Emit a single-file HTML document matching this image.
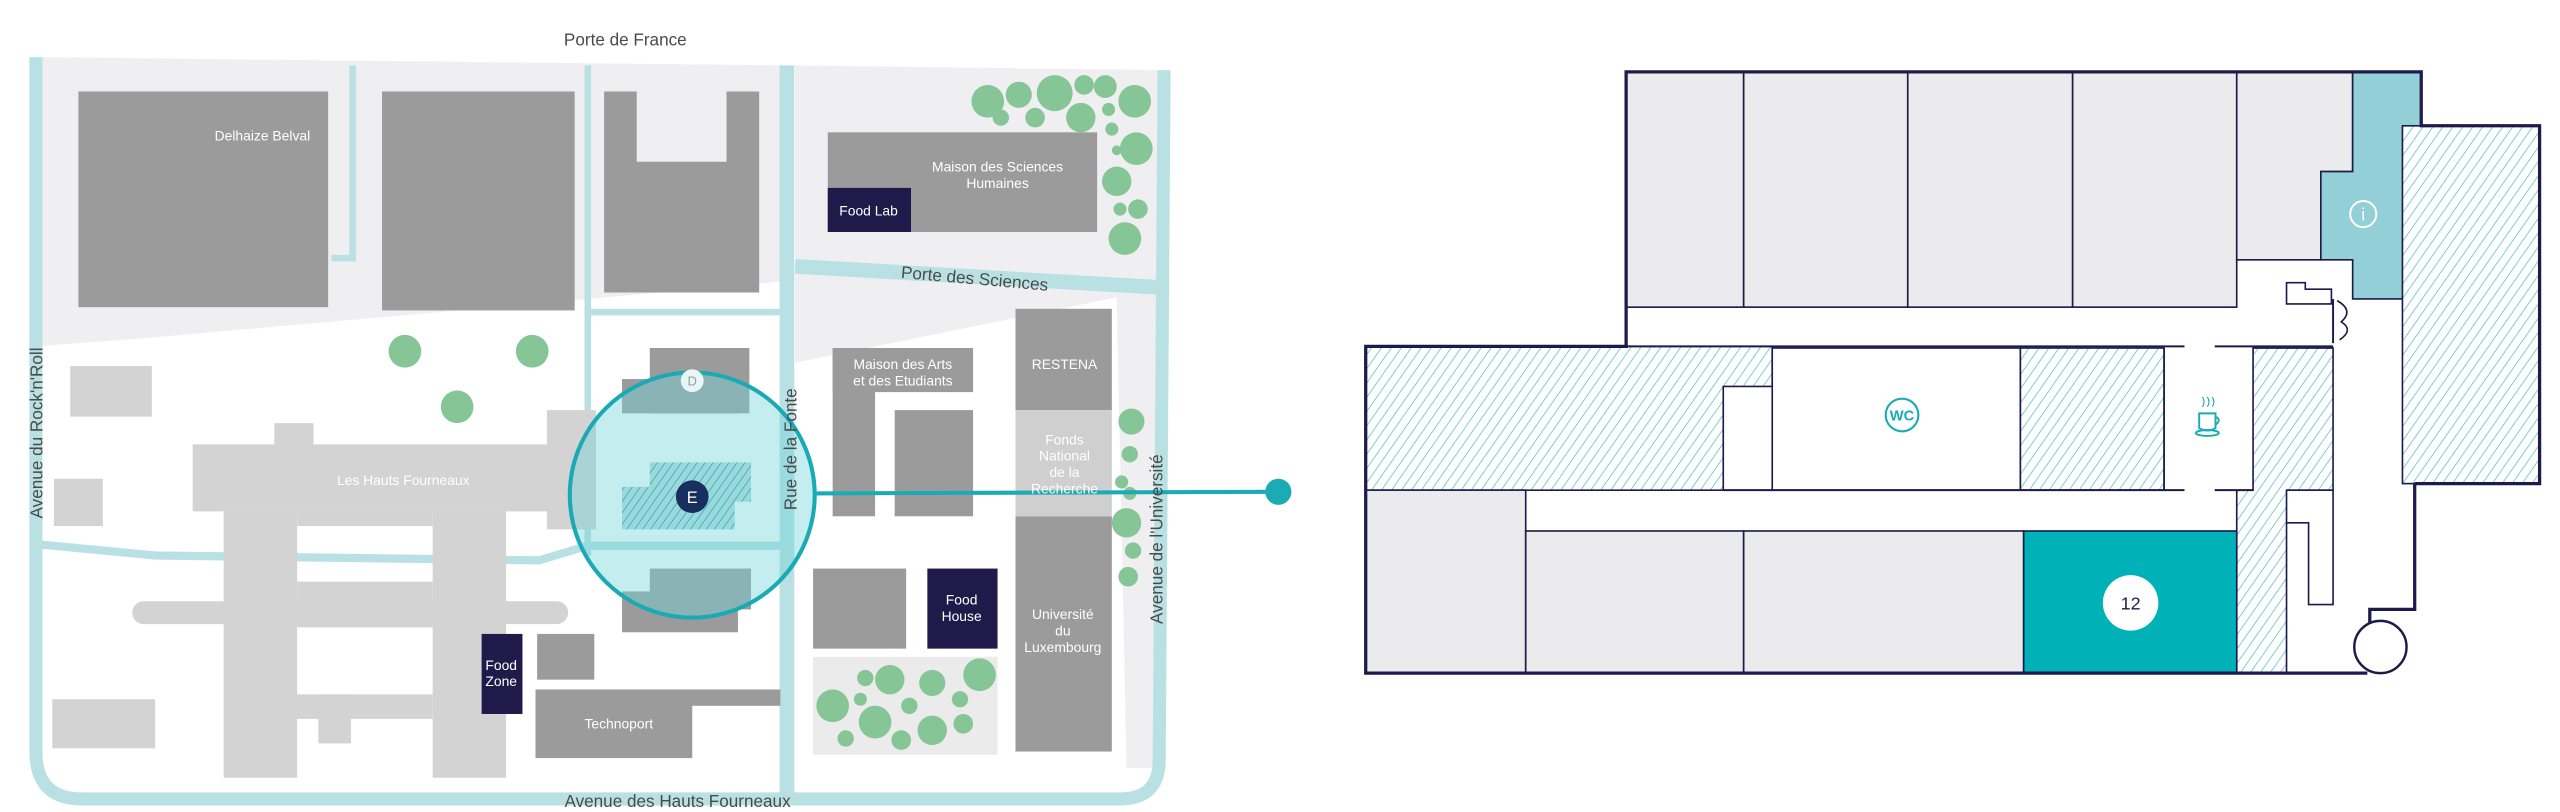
<!DOCTYPE html>
<html><head><meta charset="utf-8"><style>
html,body{margin:0;padding:0;background:#fff;width:2560px;height:812px;overflow:hidden}
svg{display:block}
text{font-family:"Liberation Sans Narrow","Liberation Sans",sans-serif}
</style></head><body>
<svg width="2560" height="812" viewBox="0 0 1568 497" preserveAspectRatio="none" xmlns="http://www.w3.org/2000/svg">
<defs>
<pattern id="h" patternUnits="userSpaceOnUse" width="5" height="5" patternTransform="rotate(35)">
<rect width="5" height="5" fill="#fff"/><line x1="0" y1="0" x2="0" y2="5" stroke="#3cb7bf" stroke-width="0.8"/></pattern>
<pattern id="h2" patternUnits="userSpaceOnUse" width="4" height="4" patternTransform="rotate(35)">
<rect width="4" height="4" fill="#9ad8dc"/><line x1="0" y1="0" x2="0" y2="4" stroke="#1aa5ad" stroke-width="0.8"/></pattern>
</defs>
<path d="M22 35 L482 40 L482 172 L360 183 L88 207 L22 212 Z" fill="#efeff1"/>
<path d="M487 40 L716 43 L710 470 L690 470 L684 182 L487 222 Z" fill="#efeff1"/>
<g fill="none" stroke="#b9e1e4">
<path d="M22 35 L22 460 Q22 489 50 489 L686 489 Q710 489 710 465 L713 43" stroke-width="8"/>
<path d="M216 40 L216 158 L203 158" stroke-width="4"/>
<path d="M360 40 L360 340" stroke-width="4"/>
<path d="M362 191 L478 191" stroke-width="4"/>
<path d="M482 40 L482 490" stroke-width="9"/>
<path d="M487 163 L712 176" stroke-width="9"/>
<path d="M22 333 L95 340 L330 343 L360 334 L478 334" stroke-width="5"/>
</g>
<g fill="#9b9b9b">
<rect x="48" y="56" width="153" height="132"/>
<rect x="234" y="56" width="118" height="134"/>
<path d="M370 56 H390 V99 H445 V56 H465 V179 H370 Z"/>
<rect x="507" y="81" width="165" height="61"/>
<rect x="398" y="213" width="61" height="40"/>
<rect x="381" y="232" width="72" height="21"/>
<rect x="398" y="348" width="62" height="25"/>
<rect x="381" y="362" width="71" height="25"/>
<rect x="329" y="388" width="35" height="28"/>
<rect x="328" y="422" width="150" height="10"/>
<rect x="328" y="422" width="96" height="42"/>
<rect x="510" y="213" width="86" height="27"/>
<rect x="510" y="213" width="26" height="103"/>
<rect x="548" y="251" width="48" height="65"/>
<rect x="622" y="189" width="59" height="62"/>
<rect x="622" y="316" width="59" height="144"/>
<rect x="498" y="348" width="57" height="49"/>
</g>
<rect x="622" y="251" width="59" height="65" fill="#cfcfcf"/>
<rect x="498" y="402" width="113" height="60" fill="#ebebeb"/>
<g fill="#d3d3d3">
<rect x="43" y="224" width="50" height="31"/>
<rect x="33" y="293" width="30" height="29"/>
<rect x="32" y="428" width="63" height="30"/>
<rect x="118" y="272" width="232" height="41"/>
<rect x="168" y="259" width="24" height="14"/>
<rect x="335" y="251" width="30" height="73"/>
<rect x="137" y="313" width="45" height="163"/>
<rect x="265" y="313" width="45" height="163"/>
<rect x="182" y="313" width="83" height="9"/>
<rect x="182" y="356" width="83" height="28"/>
<rect x="81" y="368" width="267" height="14" rx="7"/>
<rect x="177" y="425" width="88" height="15"/>
<rect x="195" y="425" width="20" height="30"/>
</g>
<g fill="#86c596">
<circle cx="605" cy="62" r="10"/><circle cx="624" cy="58" r="8"/><circle cx="646" cy="57" r="11"/><circle cx="664" cy="52" r="6"/><circle cx="677" cy="53" r="7"/><circle cx="695" cy="62" r="10"/><circle cx="613" cy="72" r="5"/><circle cx="634" cy="72" r="6"/><circle cx="662" cy="72" r="9"/><circle cx="679" cy="67" r="4"/><circle cx="681" cy="79" r="4"/><circle cx="696" cy="91" r="10"/><circle cx="684" cy="92" r="3"/><circle cx="684" cy="111" r="9"/><circle cx="686" cy="128" r="4"/><circle cx="697" cy="128" r="6"/><circle cx="689" cy="146" r="10"/>
<circle cx="248" cy="215" r="10"/><circle cx="326" cy="215" r="10"/><circle cx="280" cy="249" r="10"/>
<circle cx="693" cy="258" r="8"/><circle cx="692" cy="278" r="5"/><circle cx="687" cy="295" r="4"/><circle cx="692" cy="302" r="4"/><circle cx="690" cy="320" r="9"/><circle cx="694" cy="337" r="5"/><circle cx="691" cy="353" r="6"/>
<circle cx="510" cy="432" r="10"/><circle cx="530" cy="415" r="5"/><circle cx="545" cy="416" r="9"/><circle cx="536" cy="442" r="10"/><circle cx="552" cy="453" r="6"/><circle cx="571" cy="418" r="8"/><circle cx="571" cy="447" r="9"/><circle cx="600" cy="413" r="10"/><circle cx="590" cy="443" r="6"/><circle cx="518" cy="452" r="5"/><circle cx="588" cy="428" r="5"/><circle cx="557" cy="432" r="5"/><circle cx="527" cy="428" r="4"/>
</g>
<g fill="#1f1a4a">
<rect x="507" y="115" width="51" height="27"/>
<rect x="295" y="388" width="25" height="49"/>
<rect x="568" y="348" width="43" height="49"/>
</g>
<circle cx="424" cy="303" r="75" fill="#6fd3da" fill-opacity="0.42" stroke="#19aab3" stroke-width="2.5"/>
<circle cx="424" cy="233" r="7" fill="#e8f6f7"/>
<text x="424" y="236" font-size="8" fill="#9b9b9b" text-anchor="middle">D</text>
<path d="M381 298 H398 V283 H460 V307 H450 V324 H381 Z" fill="url(#h2)"/>
<circle cx="424" cy="304" r="10" fill="#17305e"/>
<text x="424" y="308" font-size="10" fill="#fff" text-anchor="middle">E</text>
<line x1="498" y1="302" x2="783" y2="301" stroke="#1aabb5" stroke-width="2.5"/>
<circle cx="783" cy="301" r="8" fill="#1aabb5"/>
<g fill="#fff" font-size="8.5" text-anchor="middle">
<text x="190" y="86" text-anchor="end">Delhaize Belval</text>
<text x="611" y="105">Maison des Sciences</text><text x="611" y="115">Humaines</text>
<text x="532" y="132">Food Lab</text>
<text x="247" y="297">Les Hauts Fourneaux</text>
<text x="307" y="410">Food</text><text x="307" y="420">Zone</text>
<text x="379" y="446">Technoport</text>
<text x="553" y="226">Maison des Arts</text><text x="553" y="236">et des Etudiants</text>
<text x="652" y="226">RESTENA</text>
<text x="652" y="272">Fonds</text><text x="652" y="282">National</text><text x="652" y="292">de la</text><text x="652" y="302">Recherche</text>
<text x="589" y="370">Food</text><text x="589" y="380">House</text>
<text x="651" y="379">Université</text><text x="651" y="389">du</text><text x="651" y="399">Luxembourg</text>
</g>
<g fill="#4a4a4a" font-size="10.5" text-anchor="middle">
<text x="383" y="28">Porte de France</text>
<text x="415" y="494">Avenue des Hauts Fourneaux</text>
<text transform="translate(597,170) rotate(5)" y="4">Porte des Sciences</text>
<text transform="translate(26,265) rotate(-90)">Avenue du Rock'n'Roll</text>
<text transform="translate(488,275) rotate(-90)">Rue de la Fonte</text>
<text transform="translate(712,330) rotate(-90)">Avenue de l'Université</text>
</g>
<g stroke="#1e1b4b" stroke-width="1">
<rect x="996" y="44" width="72" height="144" fill="#ebebed"/>
<rect x="1068" y="44" width="100.5" height="144" fill="#ebebed"/>
<rect x="1168.5" y="44" width="101" height="144" fill="#ebebed"/>
<rect x="1269.5" y="44" width="100.5" height="144" fill="#ebebed"/>
<path d="M1370 44 H1441 V105 H1421.5 V159 H1370 Z" fill="#ebebed"/>
<path d="M1441 44 H1483 V183 H1441 V159 H1421.5 V105 H1441 Z" fill="#92cfd6"/>
<rect x="1471.5" y="77" width="84" height="219" fill="url(#h)"/>
<path d="M836.5 212 H1085.5 V236.5 H1055.5 V300 H836.5 Z" fill="url(#h)"/>
<rect x="1085.5" y="213" width="152" height="87" fill="#fff"/>
<rect x="1237.5" y="213" width="88" height="87" fill="url(#h)"/>
<path d="M1380 213 H1429 V300 H1400.5 V412 H1370 V300 H1380 Z" fill="url(#h)"/>
<rect x="836.5" y="300" width="98" height="112" fill="#ebebed"/>
<rect x="934.5" y="325" width="133.5" height="87" fill="#ebebed"/>
<rect x="1068" y="325" width="171.5" height="87" fill="#ebebed"/>
<rect x="1239.5" y="325" width="130.5" height="87" fill="#00b2b8"/>
<path d="M1400.5 300 H1429 V370 H1414 V320 H1400.5" fill="none"/>
<path d="M1400.5 173 H1412 V177 H1428 V186 H1400.5 Z" fill="#fff"/>
<path d="M1431.5 184 Q1442 190 1434 197 Q1442 202 1433 208" fill="none"/>
<line x1="1325.5" y1="213" x2="1325.5" y2="300"/>
</g>
<g stroke="#1e1b4b" stroke-width="2" fill="none">
<path d="M1479 296 H1555.5 V77 H1483 V44 H996 V212 H836.5 V412 H1450"/>
<path d="M1479 296 V373 H1451.5 V382"/>
<line x1="996" y1="212" x2="1338" y2="212" stroke-width="1.2"/>
<line x1="1356.5" y1="212" x2="1429" y2="212" stroke-width="1.2"/>
<line x1="1055" y1="300" x2="1338" y2="300" stroke-width="1.2"/>
<line x1="1356.5" y1="300" x2="1380" y2="300" stroke-width="1.2"/>
<line x1="1429" y1="183" x2="1429" y2="210" stroke-width="1.2"/>
<ellipse cx="1458" cy="396" rx="16" ry="16" stroke-width="1.5" fill="#fff"/>
</g>
<circle cx="1447.5" cy="131" r="8" fill="none" stroke="#fff" stroke-width="1.2"/>
<text x="1447.5" y="135" font-size="11" fill="#fff" text-anchor="middle">i</text>
<circle cx="1165" cy="254" r="10" fill="#fff" stroke="#1aabb5" stroke-width="1.3"/>
<text x="1165" y="257.5" font-size="9" font-weight="bold" fill="#1aabb5" text-anchor="middle">WC</text>
<g stroke="#1aabb5" stroke-width="1.2" fill="none">
<path d="M1347 253 H1357 V262 Q1352 265 1347 262 Z"/>
<path d="M1357 255 Q1361 257 1357 260"/>
<ellipse cx="1352" cy="265" rx="7" ry="1.8"/>
<path d="M1349 243 q2 3 0 6 M1352 243 q2 3 0 6 M1355 243 q2 3 0 6" stroke-width="0.7"/>
</g>
<circle cx="1305" cy="369" r="17" fill="#fff"/>
<text x="1305" y="373" font-size="11" fill="#1e1b4b" text-anchor="middle">12</text>
</svg>
</body></html>
